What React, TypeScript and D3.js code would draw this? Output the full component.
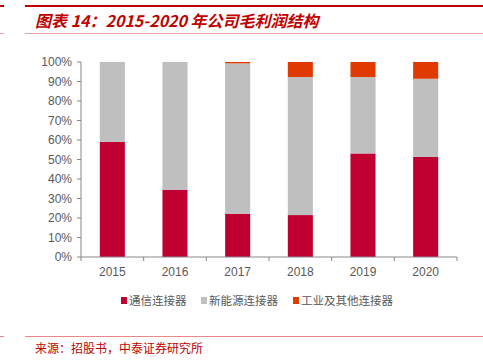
import React from "react";
import * as d3 from "d3";

const years = ["2015", "2016", "2017", "2018", "2019", "2020"];
const seriesNames = ["通信连接器", "新能源连接器", "工业及其他连接器"];
const telecom = [59.0, 34.5, 22.2, 21.5, 53.1, 51.3];
const newEnergy = [41.0, 65.5, 77.1, 70.8, 39.2, 40.1];
const industrial = [0, 0, 0.7, 7.7, 7.7, 8.6];
const yTicks = [0, 10, 20, 30, 40, 50, 60, 70, 80, 90, 100];
const colors = ["#C00030", "#BFBFBF", "#E03A00"];

export default function App() {
  const W = 483, H = 360;
  const left = 81, right = 457, top = 62, bottom = 257;
  const x = d3.scaleBand().domain(years).range([left, right]).paddingInner(0.6).paddingOuter(0.3);
  const xb = d3.scaleBand().domain(years).range([left, right]);
  const y = d3.scaleLinear().domain([0, 100]).range([bottom, top]);
  const rows = years.map((yr, i) => ({ year: yr, a: telecom[i], b: newEnergy[i], c: industrial[i] }));
  const stack = d3.stack<any>().keys(["a", "b", "c"])(rows);
  const font = "'Liberation Sans', Arial, sans-serif";
  const cjk = "'Noto Sans CJK SC', sans-serif";
  const legendX = [121, 201, 293];
  return (
    <svg width={W} height={H} style={{ position: "absolute", left: 0, top: 0, background: "#fff" }}>
      {/* header lines */}
      <rect x={0} y={5} width={4} height={2} fill="#C00000" />
      <rect x={25} y={5} width={458} height={2} fill="#C00000" />
      <rect x={0} y={33} width={4} height={1} fill="#E8A0A0" />
      <rect x={25} y={33} width={458} height={1} fill="#E8A0A0" />
      <text x={35} y={27} fill="#C00000" fontSize={16} fontWeight="bold" fontStyle="italic" fontFamily={cjk}>
        图表 14：2015-2020 年公司毛利润结构
      </text>
      {/* bars */}
      {stack.map((s, si) => (
        <g key={si}>
          {s.map((d, i) => (
            d[1] - d[0] > 0 ? (
              <rect key={i} x={x(years[i])} y={y(d[1])} width={x.bandwidth()} height={y(d[0]) - y(d[1])} fill={colors[si]} />
            ) : null
          ))}
        </g>
      ))}
      {/* y axis */}
      <line x1={left} x2={left} y1={top} y2={bottom} stroke="#888" />
      {yTicks.map(t => (
        <g key={t}>
          <line x1={left - 4} x2={left} y1={y(t)} y2={y(t)} stroke="#888" />
          <text x={left - 9} y={y(t) + 4} textAnchor="end" fontSize={12} fill="#595959" fontFamily={font}>{t}%</text>
        </g>
      ))}
      {/* x axis */}
      <line x1={left} x2={right} y1={bottom} y2={bottom} stroke="#888" />
      {years.map((yr, i) => (
        <g key={yr}>
          <line x1={xb(yr)! + xb.bandwidth()} x2={xb(yr)! + xb.bandwidth()} y1={bottom} y2={bottom + 4} stroke="#888" />
          <text x={xb(yr)! + xb.bandwidth() / 2} y={276} textAnchor="middle" fontSize={12} fill="#595959" fontFamily={font}>{yr}</text>
        </g>
      ))}
      <line x1={left} x2={left} y1={bottom} y2={bottom + 4} stroke="#888" />
      {/* legend */}
      {seriesNames.map((n, i) => (
        <g key={n}>
          <rect x={legendX[i]} y={297} width={6} height={7} fill={colors[i]} />
          <text x={legendX[i] + 8} y={305} fontSize={11.5} fill="#595959" fontFamily={cjk}>{n}</text>
        </g>
      ))}
      {/* footer */}
      <rect x={0} y={336} width={4} height={1} fill="#E88888" />
      <rect x={25} y={336} width={458} height={1} fill="#E88888" />
      <text x={35} y={353} fontSize={12} fill="#C00000" fontFamily={cjk}>来源：招股书，中泰证券研究所</text>
    </svg>
  );
}
